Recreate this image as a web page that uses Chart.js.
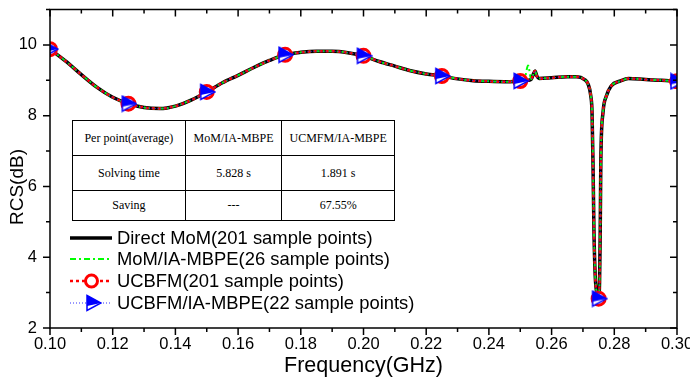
<!DOCTYPE html>
<html>
<head>
<meta charset="utf-8">
<script src="https://cdn.jsdelivr.net/npm/chart.js@4.4.1/dist/chart.umd.min.js"></script>
<style>
body { margin: 0; background: #fff; }
#wrap { position: relative; width: 690px; height: 380px; }
#cmp { position: absolute; left: 72px; top: 120px; width: 323px; height: 100px; border-collapse: collapse;
  font: 12px "Liberation Serif", "Times New Roman", serif; background: #fff; color: #000; }
#cmp td { border: 1.5px solid #000; text-align: center; padding: 0; }
</style>
</head>
<body>
<div id="wrap">
  <canvas id="rcsChart"></canvas>
  <table id="cmp"></table>
</div>
<script>
"use strict";
const freq = [0.100, 0.105, 0.110, 0.115, 0.120, 0.125, 0.130, 0.135, 0.140, 0.145,
    0.150, 0.155, 0.160, 0.165, 0.170, 0.175, 0.180, 0.185, 0.190, 0.195,
    0.200, 0.205, 0.210, 0.215, 0.220, 0.225, 0.230, 0.235, 0.240, 0.245,
    0.250, 0.2515, 0.2525, 0.2535, 0.2541, 0.2547, 0.2553, 0.2560, 0.260, 0.265,
    0.268, 0.2705, 0.2716, 0.2725, 0.2729, 0.2732, 0.2735, 0.2739, 0.2745, 0.2750,
    0.2753, 0.2755, 0.2757, 0.2764, 0.2775, 0.2790, 0.2820, 0.2845, 0.290, 0.295, 0.300];
const rcsDirectMoM = [9.88, 9.54, 9.16, 8.80, 8.52, 8.34, 8.23, 8.20, 8.27, 8.44,
    8.67, 8.93, 9.14, 9.36, 9.56, 9.72, 9.79, 9.82, 9.82, 9.78,
    9.69, 9.53, 9.40, 9.27, 9.18, 9.12, 9.04, 8.99, 8.97, 8.96,
    8.98, 8.99, 9.00, 9.03, 9.15, 9.26, 9.12, 9.05, 9.07, 9.10,
    9.10, 9.02, 8.90, 8.56, 8.09, 6.70, 4.80, 3.50, 2.95, 2.83,
    3.30, 4.60, 6.70, 8.09, 8.56, 8.84, 8.98, 9.05, 9.02, 9.00, 8.97];
const rcsMoMMbpe = [9.88, 9.54, 9.16, 8.80, 8.52, 8.34, 8.23, 8.20, 8.27, 8.44,
    8.67, 8.93, 9.14, 9.36, 9.56, 9.72, 9.79, 9.82, 9.82, 9.78,
    9.69, 9.53, 9.40, 9.27, 9.18, 9.12, 9.04, 8.99, 8.97, 8.96,
    8.98, 9.08, 9.42, 9.03, 9.15, 9.26, 9.12, 9.05, 9.07, 9.10,
    9.10, 9.02, 8.90, 8.56, 8.09, 6.70, 4.80, 3.50, 2.95, 2.83,
    3.30, 4.60, 6.70, 8.09, 8.56, 8.84, 8.98, 9.05, 9.02, 9.00, 8.97];
const rcsUcbfm = [9.88, 9.54, 9.16, 8.80, 8.52, 8.34, 8.23, 8.20, 8.27, 8.44,
    8.67, 8.93, 9.14, 9.36, 9.56, 9.72, 9.79, 9.82, 9.82, 9.78,
    9.69, 9.53, 9.40, 9.27, 9.18, 9.12, 9.04, 8.99, 8.97, 8.96,
    8.98, 8.99, 9.00, 9.03, 9.15, 9.26, 9.12, 9.05, 9.07, 9.10,
    9.10, 9.02, 8.90, 8.56, 8.09, 6.70, 4.80, 3.50, 2.95, 2.83,
    3.30, 4.60, 6.70, 8.09, 8.56, 8.84, 8.98, 9.05, 9.02, 9.00, 8.97];
const rcsUcbfmMbpe = [9.88, 9.54, 9.16, 8.80, 8.52, 8.34, 8.23, 8.20, 8.27, 8.44,
    8.67, 8.93, 9.14, 9.36, 9.56, 9.72, 9.79, 9.82, 9.82, 9.78,
    9.69, 9.53, 9.40, 9.27, 9.18, 9.12, 9.04, 8.99, 8.97, 8.96,
    8.98, 8.99, 9.00, 9.03, 9.15, 9.26, 9.12, 9.05, 9.07, 9.10,
    9.10, 9.02, 8.90, 8.56, 8.09, 6.70, 4.80, 3.50, 2.95, 2.83,
    3.30, 4.60, 6.70, 8.09, 8.56, 8.84, 8.98, 9.05, 9.02, 9.00, 8.97];
const markerFreqs = [0.100, 0.125, 0.150, 0.175, 0.200, 0.225, 0.250, 0.275, 0.300];
const seriesNames = ["Direct MoM(201 sample points)", "MoM/IA-MBPE(26 sample points)",
    "UCBFM(201 sample points)", "UCBFM/IA-MBPE(22 sample points)"];
const tableHead = ["Per point(average)", "MoM/IA-MBPE", "UCMFM/IA-MBPE"];
const tableRows = [["Solving time", "5.828 s", "1.891 s"], ["Saving", "---", "67.55%"]];

const FONT = "'Liberation Sans', Arial, sans-serif";

// comparison table (html, sits on top of the plot)
const table = document.getElementById("cmp");
const colW = [113, 97, 113];
const rowH = [35, 35, 30];
[tableHead, ...tableRows].forEach((row, r) => {
    const tr = document.createElement("tr");
    tr.style.height = rowH[r] + "px";
    row.forEach((txt, c) => {
        const td = document.createElement("td");
        td.textContent = txt;
        td.style.width = colW[c] + "px";
        tr.appendChild(td);
    });
    table.appendChild(tr);
});

// half filled blue triangle used as point style
function triangleMark() {
    const c = document.createElement("canvas");
    c.width = 18;
    c.height = 18;
    const g = c.getContext("2d");
    const outline = () => { g.beginPath(); g.moveTo(3, 1.5); g.lineTo(17, 9); g.lineTo(3, 16.5); g.closePath(); };
    outline();
    g.fillStyle = "#fff";
    g.fill();
    g.beginPath(); g.moveTo(3, 1.5); g.lineTo(17, 9); g.lineTo(3, 12); g.closePath();
    g.fillStyle = "#0000ff";
    g.fill();
    outline();
    g.strokeStyle = "#0000ff";
    g.lineWidth = 1.5;
    g.stroke();
    return c;
}
const tri = triangleMark();

const isMarker = (i) => markerFreqs.some((m) => Math.abs(m - freq[i]) < 1e-6);
const pts = (arr) => freq.map((f, i) => ({ x: f, y: arr[i] }));

const frame = {
    id: "frame",
    afterDatasetsDraw(chart) {
        const { ctx, chartArea: a, scales: { x, y } } = chart;
        ctx.save();
        ctx.strokeStyle = "#000";
        ctx.lineWidth = 1.5;
        ctx.strokeRect(a.left, a.top, a.right - a.left, a.bottom - a.top);
        ctx.beginPath();
        const xt = x.ticks.map((t) => t.value);
        xt.forEach((v, i) => {
            const p = x.getPixelForValue(v);
            ctx.moveTo(p, a.bottom); ctx.lineTo(p, a.bottom + 7);
            ctx.moveTo(p, a.top); ctx.lineTo(p, a.top + 7);
            if (i < xt.length - 1) {
                const m = x.getPixelForValue((v + xt[i + 1]) / 2);
                ctx.moveTo(m, a.bottom); ctx.lineTo(m, a.bottom + 4);
                ctx.moveTo(m, a.top); ctx.lineTo(m, a.top + 4);
            }
        });
        y.ticks.forEach((t) => {
            const p = y.getPixelForValue(t.value);
            ctx.moveTo(a.left, p); ctx.lineTo(a.left - 7, p);
            ctx.moveTo(a.right, p); ctx.lineTo(a.right - 7, p);
            const mv = t.value + 1;
            if (mv <= y.max) {
                const m = y.getPixelForValue(mv);
                ctx.moveTo(a.left, m); ctx.lineTo(a.left - 4, m);
                ctx.moveTo(a.right, m); ctx.lineTo(a.right - 4, m);
            }
        });
        ctx.stroke();

        // axis titles
        ctx.fillStyle = "#000";
        ctx.textAlign = "center";
        ctx.textBaseline = "middle";
        ctx.font = "21.5px " + FONT;
        ctx.fillText("Frequency(GHz)", (a.left + a.right) / 2, 366);
        ctx.translate(18, 187);
        ctx.rotate(-Math.PI / 2);
        ctx.font = "19px " + FONT;
        ctx.fillText("RCS(dB)", 0, 0);
        ctx.restore();

        // legend inside the plot
        ctx.save();
        const rowsY = [238, 259, 281, 303];
        chart.data.datasets.forEach((ds, i) => {
            const ly = rowsY[i];
            ctx.strokeStyle = ds.borderColor;
            ctx.lineWidth = ds.borderWidth;
            ctx.setLineDash(ds.borderDash || []);
            ctx.beginPath();
            ctx.moveTo(70, ly);
            ctx.lineTo(112, ly);
            ctx.stroke();
            ctx.setLineDash([]);
            if (i === 2) {
                ctx.beginPath();
                ctx.arc(91.5, ly, 6, 0, Math.PI * 2);
                ctx.fillStyle = "#fff";
                ctx.fill();
                ctx.lineWidth = 3;
                ctx.strokeStyle = "#ff0000";
                ctx.stroke();
            }
            if (i === 3) ctx.drawImage(tri, 84, ly - 9);
            ctx.fillStyle = "#000";
            ctx.font = "18.4px " + FONT;
            ctx.textAlign = "left";
            ctx.textBaseline = "middle";
            ctx.fillText(ds.label, 117, ly + 1);
        });
        ctx.restore();
    },
};

new Chart(document.getElementById("rcsChart"), {
    type: "line",
    data: {
        datasets: [
            {
                label: seriesNames[0], data: pts(rcsDirectMoM), borderColor: "#000", borderWidth: 3.5,
                pointRadius: 0, cubicInterpolationMode: "monotone", order: 4,
            },
            {
                label: seriesNames[1], data: pts(rcsMoMMbpe), borderColor: "#00ff00", borderWidth: 2,
                borderDash: [6, 3, 2, 3], pointRadius: 0, cubicInterpolationMode: "monotone", order: 3,
            },
            {
                label: seriesNames[2], data: pts(rcsUcbfm), borderColor: "#ff0000", borderWidth: 2.5,
                borderDash: [3, 3], cubicInterpolationMode: "monotone", order: 2,
                pointStyle: "circle", pointRadius: (c) => (isMarker(c.dataIndex) ? 6.5 : 0),
                pointBorderWidth: 3, pointBorderColor: "#ff0000", pointBackgroundColor: "#fff",
            },
            {
                label: seriesNames[3], data: pts(rcsUcbfmMbpe), borderColor: "#3030ff", borderWidth: 1,
                borderDash: [1, 2], cubicInterpolationMode: "monotone", order: 1,
                pointStyle: tri, pointRadius: (c) => (isMarker(c.dataIndex) ? 6 : 0),
            },
        ],
    },
    options: {
        responsive: true,
        maintainAspectRatio: false,
        animation: false,
        layout: { padding: { top: 6, right: 13, left: 0, bottom: 0 } },
        plugins: { legend: { display: false }, tooltip: { enabled: false } },
        scales: {
            x: {
                type: "linear", min: 0.1, max: 0.3,
                grid: { display: false, drawTicks: false }, border: { display: false },
                ticks: {
                    stepSize: 0.02, padding: 7, color: "#000", maxRotation: 0,
                    font: { family: FONT, size: 16.5 },
                    callback: (v) => v.toFixed(2),
                },
                afterFit: (s) => { s.height = 52; s.paddingLeft = 0; s.paddingRight = 0; },
            },
            y: {
                min: 2, max: 11,
                grid: { display: false, drawTicks: false }, border: { display: false },
                ticks: {
                    stepSize: 2, padding: 13, color: "#000", includeBounds: false,
                    font: { family: FONT, size: 16.5 },
                },
                afterFit: (s) => { s.width = 50; s.paddingTop = 0; s.paddingBottom = 0; },
            },
        },
    },
    plugins: [frame],
});
</script>
</body>
</html>
